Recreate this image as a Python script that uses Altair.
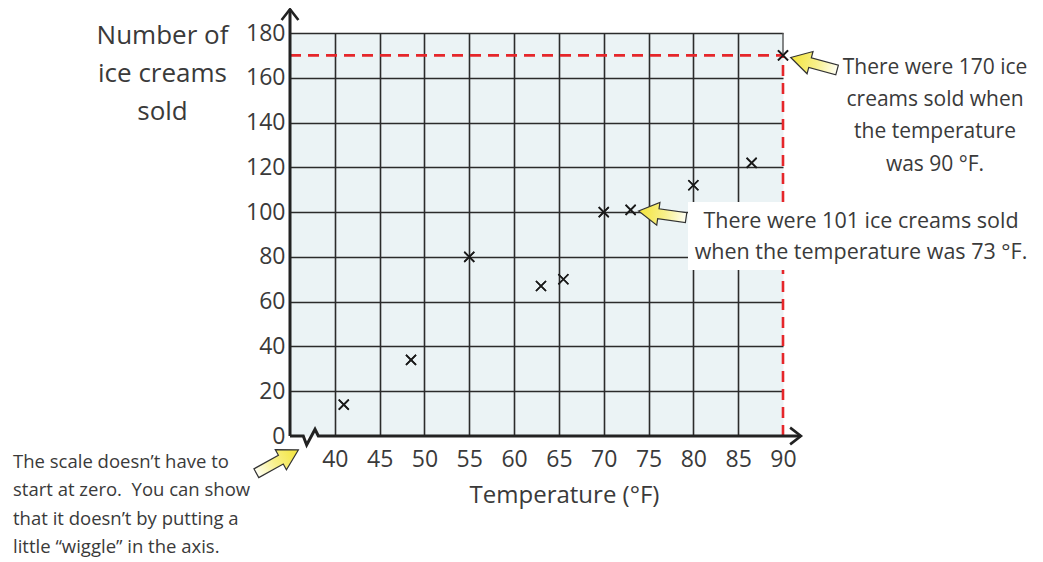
import altair as alt
import pandas as pd

FONT = "Open Sans"
TXT = "#3a3a3a"
INK = "#222222"
GRID = "#2b2b2b"
RED = "#E5262A"

# ---- data ----
temps = [41, 48.5, 55, 63, 65.5, 70, 73, 80, 86.5, 90]
sales = [14, 34, 80, 67, 70, 100, 101, 112, 122, 170]

x_ticks = [40, 45, 50, 55, 60, 65, 70, 75, 80, 85, 90]
y_ticks = [0, 20, 40, 60, 80, 100, 120, 140, 160, 180]

X_DOMAIN = [35, 90]
Y_DOMAIN = [0, 180]

# x-axis line with the "wiggle" (data units)
axis_x = [35, 36.48, 36.86, 37.79, 38.16, 92]
axis_y = [0, 0, -4.0, 3.0, 0, 0]
yaxis_top = 190.6

# highlighted reading
hi_x, hi_y = 90, 170

# yellow call-out arrows (target point + rotation)
arrow_x = [90, 73, 36.71]
arrow_y = [170, 101, -4.5]
arrow_angle = [15, 8, 151]

note1_lines = ["There were 170 ice", "creams sold when", "the temperature", "was 90 °F."]
note1_x = 106.96
note1_y = [164.4, 150.1, 135.8, 121.0]

note2_lines = ["There were 101 ice creams sold", "when the temperature was 73 °F."]
note2_x = 98.7
note2_y = [95.6, 81.7]
note2_box_x = [79.4, 91.0]
note2_box_y = [74.1, 104.5]

note3_lines = ["The scale doesn\u2019t have to", "start at zero.\u00a0 You can show",
               "that it doesn\u2019t by putting a", "little \u201cwiggle\u201d in the axis."]
note3_x = 4.1
note3_y = [-11.4, -24.3, -37.2, -49.8]

# ---- scales ----
xs = alt.Scale(domain=X_DOMAIN, nice=False, zero=False)
ys = alt.Scale(domain=Y_DOMAIN, nice=False, zero=False)

x_axis = alt.Axis(
    values=x_ticks, grid=True, gridColor=GRID, gridWidth=1.6,
    gridOpacity={"condition": {"test": "datum.value == 90", "value": 0}, "value": 1},
    domain=False, ticks=False, labelFont=FONT, labelFontSize=23, labelColor=TXT,
    labelPadding=12, labelFlush=False, labelOverlap=False,
    title="Temperature (°F)", titleFont=FONT, titleFontSize=24, titleFontWeight="normal",
    titleColor=TXT, titleX=274, titleY=59, titleAlign="center", titleBaseline="middle",
)
y_axis = alt.Axis(
    values=y_ticks, grid=True, gridColor=GRID, gridWidth=1.6,
    gridOpacity={"condition": {"test": "datum.value == 0", "value": 0}, "value": 1},
    domain=False, ticks=False, labelFont=FONT, labelFontSize=23, labelColor=TXT,
    labelPadding=5, labelFlush=False, labelOverlap=False,
    title=["Number of", "ice creams", "sold"], titleFont=FONT, titleFontSize=26,
    titleFontWeight="normal", titleColor=TXT, titleAngle=0, titleAlign="center",
    titleBaseline="middle", titleX=-128, titleY=2, titleLineHeight=38,
)

pts_df = pd.DataFrame({"x": temps, "y": sales})
points = alt.Chart(pts_df).mark_point(
    shape="M-1,-1L1,1M-1,1L1,-1", size=100, strokeWidth=1.6, color="#1a1a1a",
    filled=False, opacity=1,
).encode(
    x=alt.X("x:Q", scale=xs, axis=x_axis),
    y=alt.Y("y:Q", scale=ys, axis=y_axis),
)

# red dashed reading lines
dash_df = pd.DataFrame({
    "x": [X_DOMAIN[0], hi_x], "x2": [hi_x, hi_x],
    "y": [hi_y, Y_DOMAIN[0]], "y2": [hi_y, hi_y],
})
dashes = alt.Chart(dash_df).mark_rule(color=RED, strokeWidth=2.6, strokeDash=[11, 7]).encode(
    x=alt.X("x:Q", scale=xs), x2="x2:Q", y=alt.Y("y:Q", scale=ys), y2="y2:Q")

edge_df = pd.DataFrame({"x": [hi_x], "y": [hi_y], "y2": [Y_DOMAIN[1]]})
edge = alt.Chart(edge_df).mark_rule(color="#555555", strokeWidth=1.4).encode(
    x=alt.X("x:Q", scale=xs), y=alt.Y("y:Q", scale=ys), y2="y2:Q")

box_df = pd.DataFrame({"x": [note2_box_x[0]], "x2": [note2_box_x[1]],
                       "y": [note2_box_y[0]], "y2": [note2_box_y[1]]})
box = alt.Chart(box_df).mark_rect(color="white").encode(
    x=alt.X("x:Q", scale=xs), x2="x2:Q", y=alt.Y("y:Q", scale=ys), y2="y2:Q")

# axes lines
xline_df = pd.DataFrame({"x": axis_x, "y": axis_y, "o": list(range(len(axis_x)))})
xline = alt.Chart(xline_df).mark_line(color=INK, strokeWidth=3, strokeJoin="miter").encode(
    x=alt.X("x:Q", scale=xs), y=alt.Y("y:Q", scale=ys), order="o:Q")

yline_df = pd.DataFrame({"x": [X_DOMAIN[0]], "y": [Y_DOMAIN[0]], "y2": [yaxis_top]})
yline = alt.Chart(yline_df).mark_rule(color=INK, strokeWidth=3).encode(
    x=alt.X("x:Q", scale=xs), y=alt.Y("y:Q", scale=ys), y2="y2:Q")

chev_df = pd.DataFrame({"x": [X_DOMAIN[0], axis_x[-1]], "y": [yaxis_top, 0], "a": [0, 90]})
chev = alt.Chart(chev_df).mark_point(
    shape="M-0.7,0.9L0,0L0.7,0.9", size=576, filled=False, color=INK, strokeWidth=2.6,
    opacity=1,
).encode(x=alt.X("x:Q", scale=xs), y=alt.Y("y:Q", scale=ys),
         angle=alt.Angle("a:Q", scale=None))

arrow_df = pd.DataFrame({"x": arrow_x, "y": arrow_y, "a": arrow_angle})
arrows = alt.Chart(arrow_df).mark_point(
    shape="M0.32,0L1.12,-0.46L1.12,-0.2L2.24,-0.2L2.24,0.2L1.12,0.2L1.12,0.46Z",
    size=2500, filled=True, opacity=1, stroke="#333333", strokeWidth=1.2,
    fill={"gradient": "linear", "x1": 0, "y1": 0, "x2": 1, "y2": 0,
          "stops": [{"offset": 0, "color": "#F3E43A"}, {"offset": 0.55, "color": "#F8F08A"},
                    {"offset": 1, "color": "#FFFFF4"}]},
).encode(x=alt.X("x:Q", scale=xs), y=alt.Y("y:Q", scale=ys),
         angle=alt.Angle("a:Q", scale=None))

n1 = pd.DataFrame({"x": [note1_x] * len(note1_lines), "y": note1_y, "t": note1_lines})
n2 = pd.DataFrame({"x": [note2_x] * len(note2_lines), "y": note2_y, "t": note2_lines})
n3 = pd.DataFrame({"x": [note3_x] * len(note3_lines), "y": note3_y, "t": note3_lines})

t1 = alt.Chart(n1).mark_text(font=FONT, fontSize=21, color=TXT, align="center",
                             baseline="middle").encode(
    x=alt.X("x:Q", scale=xs), y=alt.Y("y:Q", scale=ys), text="t:N")
t2 = alt.Chart(n2).mark_text(font=FONT, fontSize=21.5, color=TXT, align="center",
                             baseline="middle").encode(
    x=alt.X("x:Q", scale=xs), y=alt.Y("y:Q", scale=ys), text="t:N")
t3 = alt.Chart(n3).mark_text(font=FONT, fontSize=18.5, color=TXT, align="left",
                             baseline="middle").encode(
    x=alt.X("x:Q", scale=xs), y=alt.Y("y:Q", scale=ys), text="t:N")

chart = alt.layer(
    points, edge, dashes, box, xline, yline, chev, arrows, t1, t2, t3, points
).properties(
    width=493, height=403,
    padding={"left": 282, "top": 25, "right": 252, "bottom": 126},
    autosize=alt.AutoSizeParams(type="none"),
).configure_view(
    fill="#EBF3F5", stroke="transparent"
)

chart.save("out.html", embed_options={"renderer": "svg", "actions": False})
